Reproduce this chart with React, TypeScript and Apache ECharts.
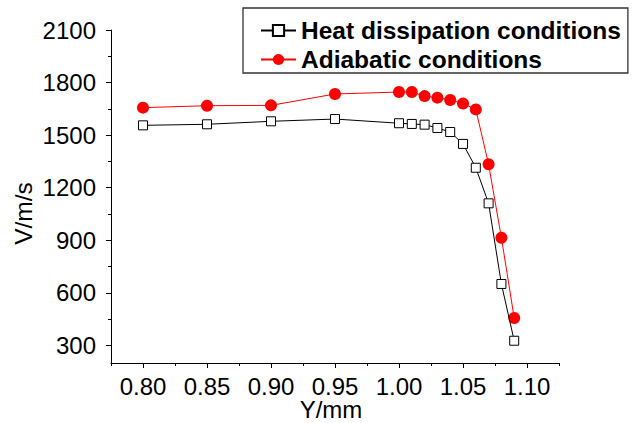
import React, { useEffect, useRef } from "react";
import * as echarts from "echarts";

const xValues = [0.80, 0.85, 0.90, 0.95, 1.00, 1.01, 1.02, 1.03, 1.04, 1.05, 1.06, 1.07, 1.08, 1.09];
const heatDissipation = [1556, 1562, 1579, 1592, 1568, 1564, 1560, 1541, 1518, 1450, 1314, 1111, 651, 327];
const adiabatic = [1657, 1668, 1670, 1735, 1746, 1746, 1723, 1714, 1701, 1680, 1647, 1334, 915, 457];

const xMajorTicks = [0.80, 0.85, 0.90, 0.95, 1.00, 1.05, 1.10];
const xMinorTicks = [0.775, 0.825, 0.875, 0.925, 0.975, 1.025, 1.075, 1.125];
const yMajorTicks = [300, 600, 900, 1200, 1500, 1800, 2100];
const yMinorTicks = [450, 750, 1050, 1350, 1650, 1950];

const seriesNames = ["Heat dissipation conditions", "Adiabatic conditions"];

const FONT = "'Liberation Sans', Arial, Helvetica, sans-serif";

export default function App() {
  const ref = useRef<HTMLDivElement>(null);
  useEffect(() => {
    if (!ref.current) return;
    const chart = echarts.init(ref.current, null, { renderer: "svg" });
    const pair = (ys: number[]) => xValues.map((x, i) => [x, ys[i]]);
    const axisLine = { show: true, lineStyle: { color: "#000", width: 1 } };
    chart.setOption({
      animation: false,
      backgroundColor: "#fff",
      textStyle: { fontFamily: FONT },
      grid: {
        left: 111,
        right: 74,
        top: 30,
        bottom: 60,
        containLabel: false,
        outerBoundsMode: "none",
      },
      legend: {
        orient: "vertical",
        left: 243,
        top: 8,
        itemWidth: 35,
        itemHeight: 14,
        itemGap: 4,
        padding: [10, 7, 1, 17],
        borderColor: "#333",
        borderWidth: 1.3,
        backgroundColor: "#fff",
        textStyle: { fontSize: 24.5, fontWeight: "bold", color: "#000", fontFamily: FONT },
        data: seriesNames,
      },
      xAxis: [
        {
          type: "value",
          min: 0.775,
          max: 1.125,
          position: "bottom",
          axisLine,
          axisTick: { show: true, inside: false, length: 5, customValues: xMajorTicks, lineStyle: { color: "#000" } },
          axisLabel: {
            show: true,
            customValues: xMajorTicks,
            margin: 13,
            fontSize: 24,
            lineHeight: 20,
            color: "#000",
            fontFamily: FONT,
            formatter: (v: number) => v.toFixed(2),
          },
          splitLine: { show: false },
          name: "Y/mm",
          nameLocation: "middle",
          nameGap: 36,
          nameMoveOverlap: false,
          nameTextStyle: { fontSize: 24, lineHeight: 20, color: "#000", fontFamily: FONT, padding: [0, 8, 0, 0] },
        },
        {
          type: "value",
          min: 0.775,
          max: 1.125,
          position: "bottom",
          axisLine: { show: false },
          axisTick: { show: true, length: 3, customValues: xMinorTicks, lineStyle: { color: "#000" } },
          axisLabel: { show: false },
          splitLine: { show: false },
        },
      ],
      yAxis: [
        {
          type: "value",
          min: 200,
          max: 2100,
          position: "left",
          axisLine,
          axisTick: { show: true, length: 5, customValues: yMajorTicks, lineStyle: { color: "#000" } },
          axisLabel: {
            show: true,
            customValues: yMajorTicks,
            margin: 15,
            fontSize: 24,
            color: "#000",
            fontFamily: FONT,
            formatter: (v: number) => String(v),
          },
          splitLine: { show: false },
          name: "V/m/s",
          nameLocation: "middle",
          nameGap: 75,
          nameMoveOverlap: false,
          nameTextStyle: { fontSize: 24.5, color: "#000", fontFamily: FONT, padding: [0, 34, 0, 0] },
        },
        {
          type: "value",
          min: 200,
          max: 2100,
          position: "left",
          axisLine: { show: false },
          axisTick: { show: true, length: 3, customValues: yMinorTicks, lineStyle: { color: "#000" } },
          axisLabel: { show: false },
          splitLine: { show: false },
        },
      ],
      series: [
        {
          name: seriesNames[0],
          type: "line",
          xAxisIndex: 0,
          yAxisIndex: 0,
          data: pair(heatDissipation),
          symbol: "rect",
          symbolSize: 9,
          z: 3,
          lineStyle: { color: "#000", width: 1 },
          itemStyle: { color: "#fff", borderColor: "#000", borderWidth: 1 },
        },
        {
          name: seriesNames[1],
          type: "line",
          xAxisIndex: 0,
          yAxisIndex: 0,
          data: pair(adiabatic),
          symbol: "circle",
          symbolSize: 12,
          z: 2,
          lineStyle: { color: "#ff0000", width: 1 },
          itemStyle: { color: "#ff0000", borderColor: "#ff0000", borderWidth: 0 },
        },
      ],
    });
    return () => chart.dispose();
  }, []);
  return (
    <div
      ref={ref}
      style={{ position: "fixed", left: 0, top: 0, width: 633, height: 423, background: "#fff" }}
    />
  );
}
